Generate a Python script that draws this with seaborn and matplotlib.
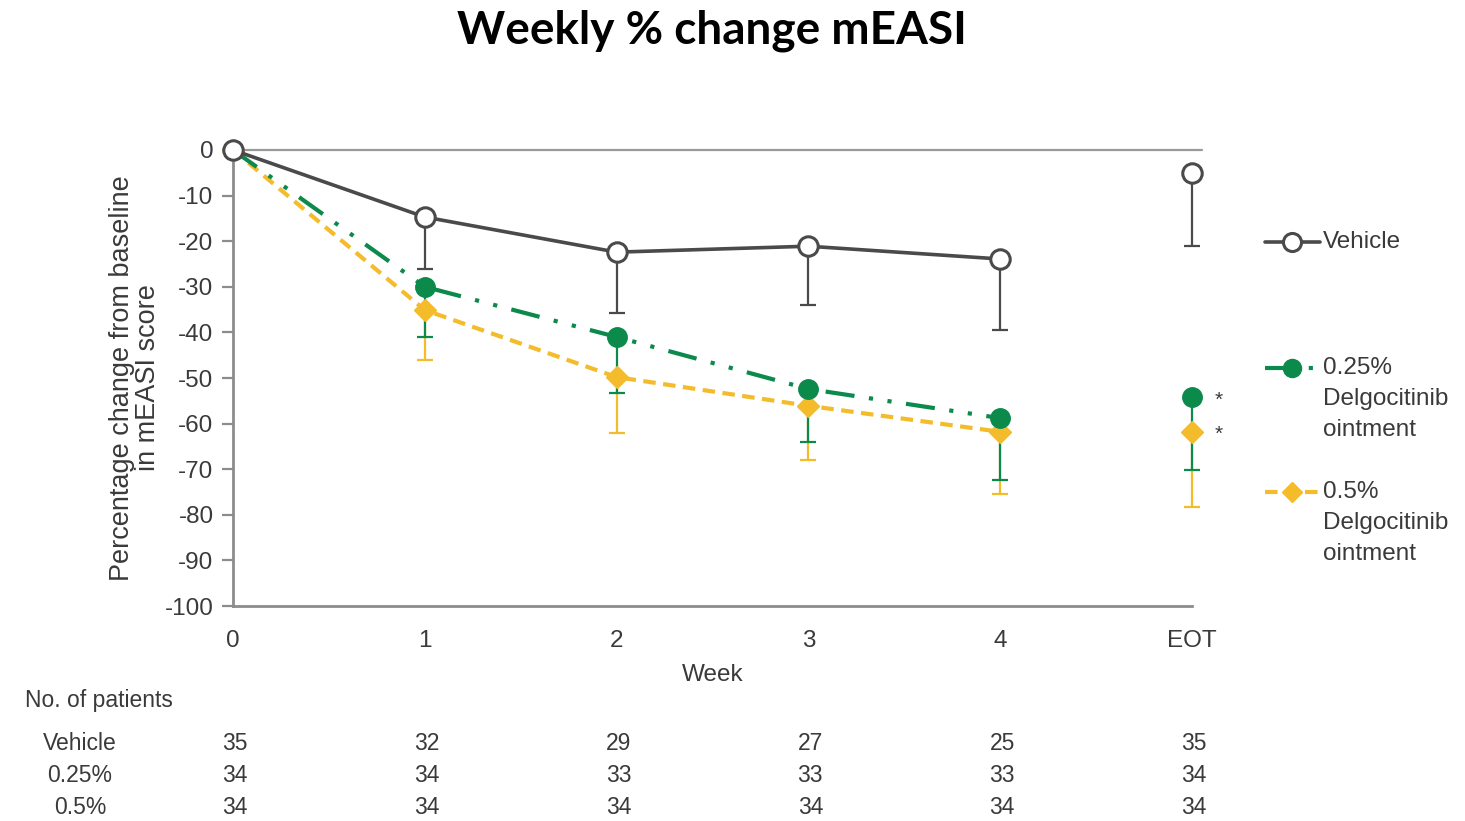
import matplotlib
matplotlib.use("Agg")
import matplotlib.pyplot as plt
from matplotlib.lines import Line2D
from matplotlib.transforms import blended_transform_factory
import numpy as np
import pandas as pd
import seaborn as sns

# ---- data -------------------------------------------------------------
week_labels = ["0", "1", "2", "3", "4", "EOT"]
week_pos = [0, 1, 2, 3, 4, 5]

vehicle_mean = [0.0, -14.7, -22.4, -21.1, -23.9, -5.0]
vehicle_low = [0.0, -26.1, -35.7, -34.0, -39.5, -21.0]

d025_mean = [0.0, -30.0, -41.0, -52.4, -58.8, -54.2]
d025_low = [0.0, -41.0, -53.3, -64.0, -72.4, -70.2]

d05_mean = [0.0, -35.1, -49.8, -56.1, -61.8, -61.8]
d05_low = [0.0, -46.0, -62.0, -68.0, -75.4, -78.3]

groups = ["Vehicle", "0.25% Delgocitinib ointment", "0.5% Delgocitinib ointment"]
table_rows = ["Vehicle", "0.25%", "0.5%"]
n_vehicle = [35, 32, 29, 27, 25, 35]
n_d025 = [34, 34, 33, 33, 33, 34]
n_d05 = [34, 34, 34, 34, 34, 34]

# ---- styling ----------------------------------------------------------
sns.set_theme(style="white")
plt.rcParams["font.family"] = ["Liberation Sans", "DejaVu Sans"]
plt.rcParams["axes.unicode_minus"] = False

GREY = "#4a4a4a"
AXIS = "#8c8c8c"
GREEN = "#0b8a4c"
YELLOW = "#f4bb2a"
TXT = "#3a3a3a"

W, H = 1465, 821
fig = plt.figure(figsize=(W / 100, H / 100), dpi=100)
fig.patch.set_facecolor("white")

x0, x1 = 233 / W, 1192 / W
y0, y1 = 1 - 606 / H, 1 - 150 / H
ax = fig.add_axes([x0, y0, x1 - x0, y1 - y0])

rows = []
for g, means, lows in [(groups[0], vehicle_mean, vehicle_low),
                       (groups[1], d025_mean, d025_low),
                       (groups[2], d05_mean, d05_low)]:
    for w, m, lo in zip(week_pos, means, lows):
        rows.append({"group": g, "week": w, "mean": m, "low": lo})
df = pd.DataFrame(rows)

series_style = {
    groups[0]: dict(color=GREY, ls="-", lw=2.6, marker="o", ms=14, mfc="white",
                    mec=GREY, mew=2.2, ecolor=GREY, z=5),
    groups[1]: dict(color=GREEN, ls=(0, (7, 3.5, 1, 3.5, 1, 3.5)), lw=3.0, marker="o",
                    ms=14, mfc=GREEN, mec=GREEN, mew=1, ecolor=GREEN, z=4),
    groups[2]: dict(color=YELLOW, ls=(0, (3, 1.8)), lw=3.0, marker="D", ms=11,
                    mfc=YELLOW, mec=YELLOW, mew=1, ecolor=YELLOW, z=3),
}

# zero reference line
ax.axhline(0, color="#9a9a9a", lw=1.6, zorder=1, xmax=1.01, clip_on=False)

for g in groups:
    st = series_style[g]
    sub = df[df.group == g]
    trend = sub[sub.week <= 4]
    # one-sided (downward) error bars
    lower = (sub["mean"] - sub["low"]).values
    ax.errorbar(sub["week"], sub["mean"], yerr=[lower, np.zeros_like(lower)],
                fmt="none", ecolor=st["ecolor"], elinewidth=1.6, capsize=6,
                capthick=1.6, zorder=st["z"] - 0.5, clip_on=False)
    sns.lineplot(data=trend, x="week", y="mean", ax=ax, color=st["color"],
                 linewidth=st["lw"], linestyle=st["ls"], legend=False,
                 zorder=st["z"], clip_on=False)
    ax.plot(sub["week"], sub["mean"], ls="none", marker=st["marker"],
            ms=st["ms"], mfc=st["mfc"], mec=st["mec"], mew=st["mew"],
            zorder=st["z"] + 1, clip_on=False)

# significance markers at end of treatment
for vals in (d025_mean, d05_mean):
    ax.text(5.14, vals[-1] - 0.6, "*", ha="center", va="center",
            fontsize=15, color=TXT)

ax.set_xlim(0, 5)
ax.set_ylim(-100, 0)
ax.set_xticks(week_pos)
ax.set_xticklabels(week_labels)
ax.set_yticks(np.arange(-100, 1, 10))
ax.tick_params(axis="y", direction="out", length=8, width=1.6, color=AXIS,
               labelsize=17.5, labelcolor=TXT, pad=6, left=True)
ax.tick_params(axis="x", length=0, labelsize=17.5, labelcolor=TXT, pad=17)
for s in ["top", "right"]:
    ax.spines[s].set_visible(False)
for s in ["left", "bottom"]:
    ax.spines[s].set_color(AXIS)
    ax.spines[s].set_linewidth(2.0)
ax.spines["left"].set_zorder(0.5)

ax.set_xlabel("Week", fontsize=17.5, color=TXT, labelpad=9)
ax.set_ylabel("Percentage change from baseline\nin mEASI score", fontsize=19.5,
              color=TXT, labelpad=3, linespacing=1.0)

# title
fig.text(712 / W, 1 - 31 / H, "Weekly % change mEASI", ha="center", va="center",
         fontsize=33, fontweight="bold", color="black",
         family=["Lato", "DejaVu Sans"])

# legend drawn beside the axes
def fy(py):
    return 1 - py / H

legend_items = [
    (groups[0], 242, ["Vehicle"]),
    (groups[1], 368, ["0.25%", "Delgocitinib", "ointment"]),
    (groups[2], 492, ["0.5%", "Delgocitinib", "ointment"]),
]
for g, py, lines in legend_items:
    st = series_style[g]
    fig.add_artist(Line2D([1265 / W, 1320 / W], [fy(py), fy(py)], color=st["color"],
                          lw=st["lw"], ls="-" if g == groups[0] else st["ls"]))
    fig.add_artist(Line2D([1292 / W], [fy(py)], ls="none", marker=st["marker"],
                          ms=st["ms"] - 1, mfc=st["mfc"], mec=st["mec"],
                          mew=st["mew"]))
    for i, t in enumerate(lines):
        fig.text(1323 / W, fy(py + 31 * i), t, ha="left", va="center",
                 fontsize=17.5, color=TXT)

# number-at-risk table
tr = blended_transform_factory(ax.transData, fig.transFigure)
fig.text(25 / W, fy(700), "No. of patients", ha="left", va="center",
         fontsize=16.5, color=TXT)
for label, counts, py in zip(table_rows, [n_vehicle, n_d025, n_d05], [743, 775, 807]):
    fig.text(80 / W, fy(py), label, ha="center", va="center", fontsize=16.5,
             color=TXT)
    for w, n in zip(week_pos, counts):
        ax.text(w + 0.01, fy(py), str(n), transform=tr, ha="center", va="center",
                fontsize=16.5, color=TXT, clip_on=False)

fig.savefig("out.png", dpi=100, facecolor="white")
